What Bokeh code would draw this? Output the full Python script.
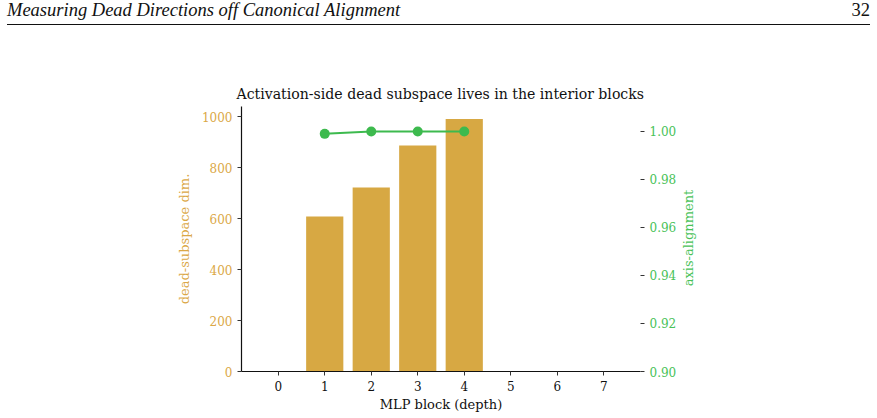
from bokeh.plotting import figure
from bokeh.layouts import column, row
from bokeh.models import (Div, Range1d, LinearAxis, FixedTicker,
                          NumeralTickFormatter, ColumnDataSource)
from bokeh.embed import file_html
from bokeh.resources import INLINE

# MLP blocks and measured quantities per block
blocks = [0, 1, 2, 3, 4, 5, 6, 7]
dead_dim = [0, 608, 722, 887, 990, 0, 0, 0]
align_blocks = [1, 2, 3, 4]
alignment = [0.999, 1.0, 1.0, 1.0]

left_ticks = [0, 200, 400, 600, 800, 1000]
right_ticks = [0.90, 0.92, 0.94, 0.96, 0.98, 1.00]

GOLD = "#d7a843"
GOLD_TXT = "#dba847"
GREEN = "#3dba4e"
GREEN_TXT = "#48c258"
SERIF = "DejaVu Serif"

AL_LO, AL_HI = 0.9, 1.0104

header = Div(
    text=(
        "<div style=\"display:flex;justify-content:space-between;align-items:flex-end;"
        "width:863px;margin-left:7px;height:25px;padding-bottom:1px;border-bottom:1.5px solid #111;"
        "font-family:'Liberation Serif';font-size:18.5px;color:#111;\">"
        "<span style=\"font-style:italic;\">Measuring Dead Directions off Canonical Alignment</span>"
        "<span>32</span></div>"
    ),
    width=877, height=28, margin=(0, 0, 0, 0),
)

p = figure(
    width=680, height=390,
    x_range=Range1d(-0.79, 7.79), y_range=Range1d(0, 1039.5),
    output_backend="svg", toolbar_location=None,
    min_border_left=241, min_border_right=40,
    min_border_top=78, min_border_bottom=47,
    title="Activation-side dead subspace lives in the interior blocks",
)
p.title.text_font = SERIF
p.title.text_font_style = "normal"
p.title.text_font_size = "14.1px"
p.title.text_color = "#111111"
p.title.align = "left"
p.title.offset = -5
p.outline_line_color = None
p.xgrid.visible = False
p.ygrid.visible = False

p.extra_y_ranges = {"align": Range1d(AL_LO, AL_HI)}

bars = ColumnDataSource(dict(x=blocks, top=dead_dim))
p.vbar(x="x", top="top", width=0.8, source=bars, color=GOLD, line_color=None)

pts = ColumnDataSource(dict(x=align_blocks, y=alignment))
p.line(x="x", y="y", source=pts, y_range_name="align", color=GREEN, line_width=2)
p.scatter(x="x", y="y", source=pts, y_range_name="align", size=10,
          color=GREEN, line_color=None)

TICK_FS = "12px"
LABEL_FS = "13px"

# bottom axis
xa = p.xaxis[0]
xa.ticker = FixedTicker(ticks=blocks)
xa.axis_label = "MLP block (depth)"
xa.axis_label_text_font = SERIF
xa.axis_label_text_font_style = "normal"
xa.axis_label_text_font_size = LABEL_FS
xa.axis_label_text_color = "#111111"
xa.axis_label_standoff = 3
xa.major_label_text_font = SERIF
xa.major_label_text_font_size = TICK_FS
xa.major_label_text_color = "#111111"
xa.axis_line_color = "#111111"
xa.axis_line_width = 1.2
xa.major_tick_line_color = "#333333"
xa.major_tick_in = 0
xa.major_tick_out = 4
xa.minor_tick_line_color = None

# left axis
ya = p.yaxis[0]
ya.ticker = FixedTicker(ticks=left_ticks)
ya.axis_label = "dead-subspace dim."
ya.axis_label_text_font = SERIF
ya.axis_label_text_font_style = "normal"
ya.axis_label_text_font_size = LABEL_FS
ya.axis_label_text_color = GOLD_TXT
ya.axis_label_standoff = 7
ya.major_label_text_font = SERIF
ya.major_label_text_font_size = TICK_FS
ya.major_label_text_color = GOLD_TXT
ya.axis_line_color = "#111111"
ya.axis_line_width = 1.2
ya.major_tick_line_color = "#333333"
ya.major_tick_in = 0
ya.major_tick_out = 4
ya.minor_tick_line_color = None

# right axis for the alignment score
ra = LinearAxis(y_range_name="align")
ra.ticker = FixedTicker(ticks=right_ticks)
ra.formatter = NumeralTickFormatter(format="0.00")
ra.major_label_text_font = SERIF
ra.major_label_text_font_size = TICK_FS
ra.major_label_text_color = GREEN_TXT
ra.axis_line_color = None
ra.major_tick_line_color = "#333333"
ra.major_tick_in = 0
ra.major_tick_out = 4
ra.minor_tick_line_color = None
p.add_layout(ra, "right")

# right-hand axis title, reading bottom-to-top, centred on the plot frame
right_title = Div(
    text=(
        "<div style=\"position:relative;width:40px;height:390px;\">"
        "<span style=\"position:absolute;left:9px;top:210px;"
        "transform:translate(-50%,-50%) rotate(-90deg);white-space:nowrap;"
        "font-family:'DejaVu Serif';font-size:13px;color:" + GREEN_TXT + ";\">"
        "axis-alignment</span></div>"
    ),
    width=40, height=390, margin=(0, 0, 0, 0),
)

layout = column(header, row(p, right_title, spacing=0), spacing=0)
open("out.html", "w").write(file_html(layout, INLINE))
